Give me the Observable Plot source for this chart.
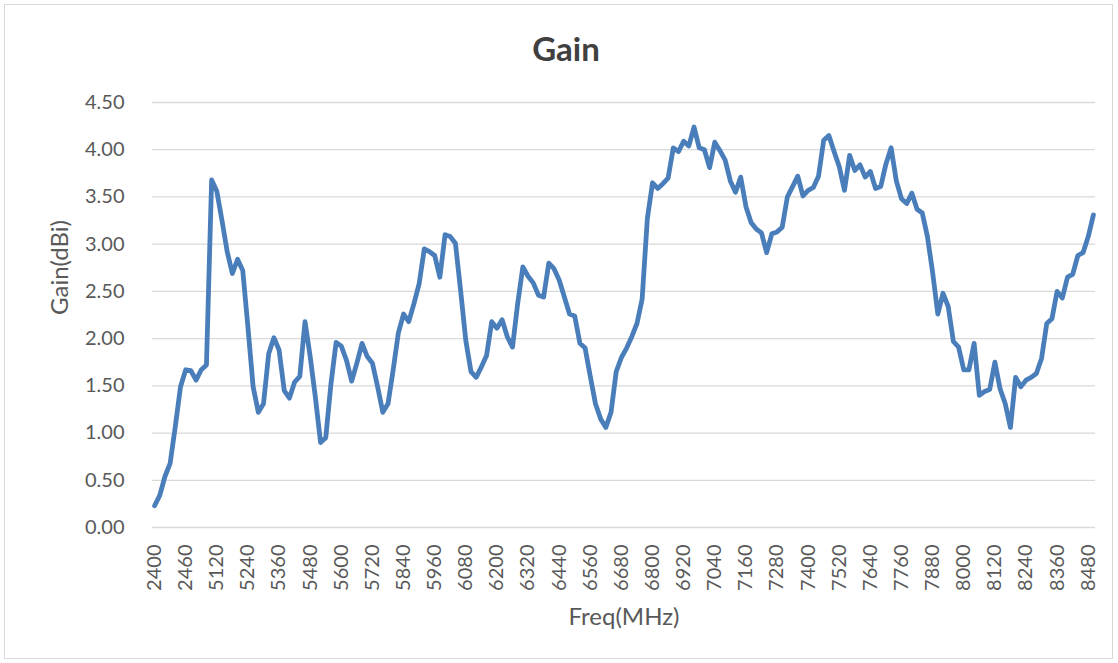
<!DOCTYPE html>
<html>
<head>
<meta charset="utf-8">
<script src="https://cdn.jsdelivr.net/npm/d3@7"></script>
<script src="https://cdn.jsdelivr.net/npm/@observablehq/plot@0.6"></script>
<style>
  html, body { margin: 0; padding: 0; background: #fff; }
  #wrap { position: relative; width: 1118px; height: 663px; overflow: hidden; font-family: Lato, "Open Sans", sans-serif; }
  #border { position: absolute; left: 4px; top: 4px; width: 1109px; height: 655px; border: 1px solid #d9d9d9; box-sizing: border-box; }
  #chart { position: absolute; left: 0; top: 0; }
</style>
</head>
<body>
<div id="wrap">
  <div id="border"></div>
  <div id="chart"></div>
</div>
<script>
// Frequencies (MHz): categories of the Excel line chart
const freqLow = [2400, 2410, 2420, 2430, 2440, 2450, 2460, 2470, 2480, 2490, 2500];
const freqHigh = d3.range(5100, 8501, 20).filter(f => f === 5100 || f >= 5120);
const freqs = freqLow.concat(freqHigh);

// Gain (dBi)
const gain = [
  0.23, 0.34, 0.54, 0.68, 1.07, 1.49, 1.67, 1.66, 1.56, 1.67,
  1.72, 3.68, 3.56, 3.25, 2.92, 2.69, 2.84, 2.72, 2.12, 1.49,
  1.22, 1.31, 1.84, 2.01, 1.88, 1.45, 1.37, 1.54, 1.60, 2.18,
  1.81, 1.38, 0.90, 0.95, 1.52, 1.96, 1.92, 1.77, 1.55, 1.74,
  1.95, 1.81, 1.74, 1.49, 1.22, 1.31, 1.67, 2.06, 2.26, 2.18,
  2.37, 2.58, 2.95, 2.92, 2.88, 2.65, 3.10, 3.08, 3.01, 2.51,
  1.98, 1.65, 1.59, 1.70, 1.82, 2.18, 2.11, 2.20, 2.02, 1.91,
  2.37, 2.76, 2.66, 2.59, 2.46, 2.44, 2.80, 2.74, 2.62, 2.44,
  2.26, 2.24, 1.95, 1.90, 1.60, 1.31, 1.15, 1.06, 1.22, 1.65,
  1.80, 1.90, 2.02, 2.16, 2.42, 3.27, 3.65, 3.59, 3.64, 3.70,
  4.02, 3.98, 4.09, 4.04, 4.24, 4.02, 4.00, 3.81, 4.08, 3.99,
  3.89, 3.67, 3.55, 3.71, 3.40, 3.23, 3.16, 3.12, 2.91, 3.11,
  3.13, 3.18, 3.50, 3.61, 3.72, 3.51, 3.57, 3.60, 3.72, 4.10,
  4.15, 3.98, 3.82, 3.57, 3.94, 3.78, 3.84, 3.71, 3.77, 3.59,
  3.61, 3.85, 4.02, 3.67, 3.48, 3.43, 3.54, 3.37, 3.33, 3.08,
  2.70, 2.26, 2.48, 2.34, 1.97, 1.91, 1.67, 1.67, 1.95, 1.40,
  1.44, 1.46, 1.75, 1.47, 1.31, 1.06, 1.59, 1.49, 1.56, 1.59,
  1.63, 1.79, 2.16, 2.21, 2.50, 2.43, 2.65, 2.68, 2.88, 2.91,
  3.08, 3.31
];

// Tick labels shown on the category axis (every 6th category)
const xTickLabels = [2400, 2460, 5120, 5240, 5360, 5480, 5600, 5720, 5840, 5960, 6080, 6200, 6320, 6440, 6560, 6680, 6800, 6920, 7040, 7160, 7280, 7400, 7520, 7640, 7760, 7880, 8000, 8120, 8240, 8360, 8480];
const yTicks = [0, 0.5, 1, 1.5, 2, 2.5, 3, 3.5, 4, 4.5];
const titleText = "Gain";
const xTitle = "Freq(MHz)";
const yTitle = "Gain(dBi)";

const data = gain.map((g, i) => ({i, freq: freqs[i], gain: g}));
const xTickIdx = xTickLabels.map(f => freqs.indexOf(f));
const font = "Lato, 'Open Sans', sans-serif";

const chart = Plot.plot({
  width: 1118,
  height: 663,
  marginLeft: 152,
  marginRight: 23,
  marginTop: 102,
  marginBottom: 136,
  style: {fontFamily: font, background: "transparent", color: "#595959"},
  x: {type: "linear", domain: [-0.4, 181.4]},
  y: {domain: [0, 4.5]},
  marks: [
    Plot.gridY(yTicks, {stroke: "#d9d9d9", strokeOpacity: 1, strokeWidth: 1.3}),
    Plot.axisY(yTicks, {tickSize: 0, tickPadding: 28, tickFormat: d3.format(".2f"), fontSize: 20, fill: "#595959", label: null}),
    Plot.axisX(xTickIdx, {tickSize: 0, tickPadding: 17, tickRotate: -90, tickFormat: i => String(freqs[i]), fontSize: 20, fill: "#595959", label: null}),
    Plot.text([yTitle], {frameAnchor: "left", lineAnchor: "middle", dx: -92, rotate: -90, fontSize: 24, fill: "#595959"}),
    Plot.text([xTitle], {frameAnchor: "bottom", lineAnchor: "middle", dy: 90, fontSize: 24, fill: "#595959"}),
    Plot.text([titleText], {frameAnchor: "top", lineAnchor: "middle", dx: -58, dy: -52, fontSize: 33, fontWeight: "bold", fill: "#404040"}),
    Plot.line(data, {x: "i", y: "gain", stroke: "#4a7ebb", strokeWidth: 4.8, strokeLinejoin: "round", strokeLinecap: "round"})
  ]
});
document.getElementById("chart").appendChild(chart);
</script>
</body>
</html>
